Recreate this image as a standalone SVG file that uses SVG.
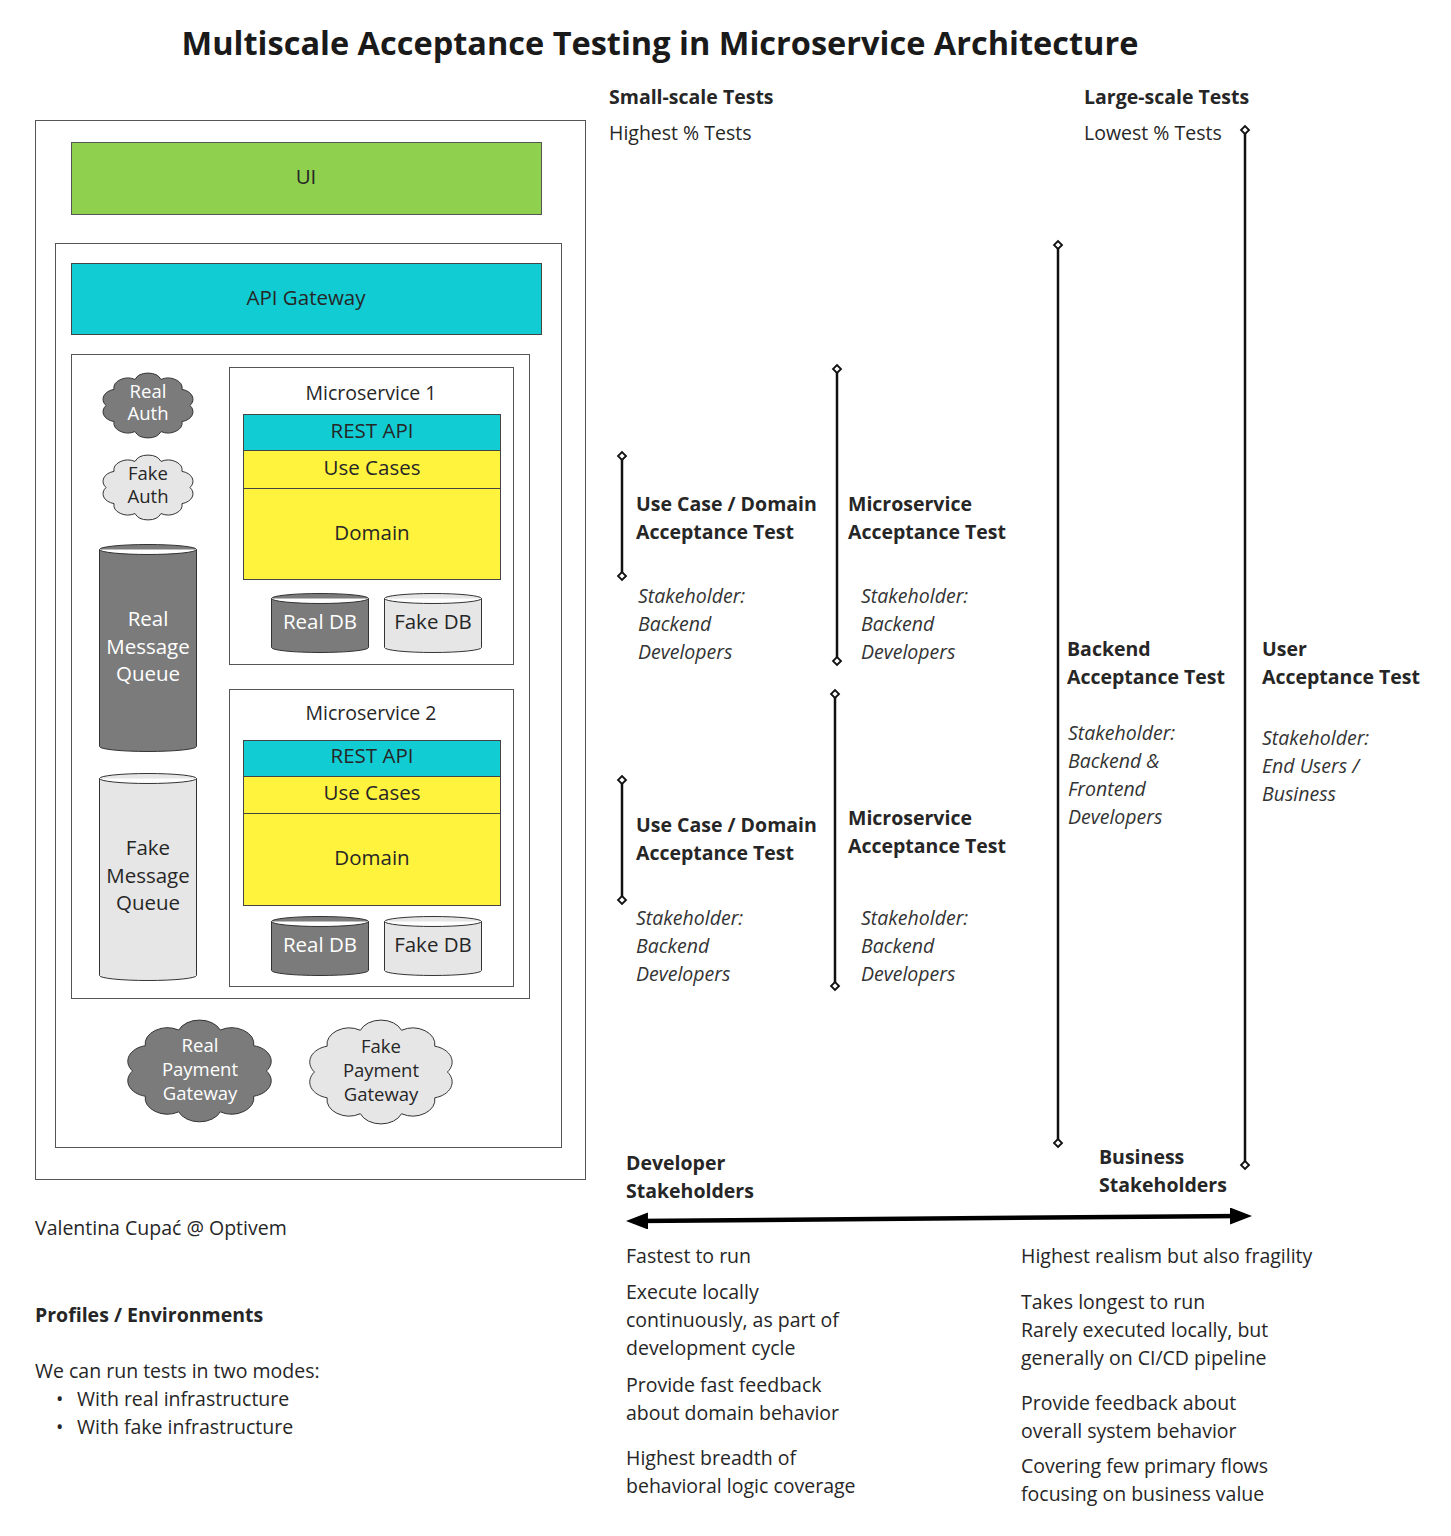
<svg xmlns="http://www.w3.org/2000/svg" width="1451" height="1536" viewBox="0 0 1451 1536">
<style>
text{font-family:"Open Sans","Noto Sans","Liberation Sans",sans-serif;fill:#262626;font-size:19.5px}
.t{font-size:32.5px;font-weight:bold;fill:#1a1a1a}
.b{font-weight:bold}
.i{font-style:italic;fill:#333}
.c{text-anchor:middle}
.w{fill:#ffffff}
.l{font-size:20.5px}
.s{font-size:18.5px}
.box{fill:#fff;stroke:#555;stroke-width:1}
.real{fill:#7b7b7b;stroke:#333;stroke-width:1}
.fake{fill:#e6e6e6;stroke:#333;stroke-width:1}
.cyan{fill:#12ccd4;stroke:#444;stroke-width:1}
.yel{fill:#fff33d;stroke:#444;stroke-width:1}
.vl{stroke:#111;stroke-width:2.5;fill:none;marker-start:url(#dia);marker-end:url(#dia)}
</style>
<defs>
<marker id="dia" viewBox="-6 -6 12 12" markerWidth="12" markerHeight="12" markerUnits="userSpaceOnUse" orient="auto" refX="0" refY="0">
<path d="M0,-4 L4,0 L0,4 L-4,0 Z" fill="#fff" stroke="#111" stroke-width="1.8"/>
</marker>
<marker id="ah" viewBox="0 0 10 10" preserveAspectRatio="none" markerWidth="22" markerHeight="17" markerUnits="userSpaceOnUse" orient="auto-start-reverse" refX="5" refY="5">
<path d="M0,0 L10,5 L0,10 Z" fill="#000"/>
</marker>
<path id="cloud" vector-effect="non-scaling-stroke" stroke="#333" stroke-width="1" d="M92,50 A14,14 0 0 1 84,72.3 A14,14 0 0 1 63,86.1 A14,14 0 0 1 37,86.1 A14,14 0 0 1 16,72.3 A14,14 0 0 1 8,50 A14,14 0 0 1 16,27.7 A14,14 0 0 1 37,13.9 A14,14 0 0 1 63,13.9 A14,14 0 0 1 84,27.7 A14,14 0 0 1 92,50 Z"/>
</defs>

<text class="t c" x="660" y="55">Multiscale Acceptance Testing in Microservice Architecture</text>

<g id="outer-box"><rect class="box" x="35.5" y="120.5" width="550" height="1059"/></g>
<g id="ui"><rect x="71.5" y="142.5" width="470" height="72" fill="#8fd14f" stroke="#555"/><text class="c l" x="306" y="184">UI</text></g>
<g id="backend-box"><rect class="box" x="55.5" y="243.5" width="506" height="904"/></g>
<g id="api-gateway"><rect class="cyan" x="71.5" y="263.5" width="470" height="71"/><text class="c l" x="306" y="305">API Gateway</text></g>
<g id="services-box"><rect class="box" x="71.5" y="354.5" width="458" height="644"/></g>

<g id="real-auth"><use href="#cloud" fill="#7b7b7b" transform="translate(98,369.4) scale(1,0.722)"/><text class="c w s" x="148" y="398">Real</text><text class="c w s" x="148" y="420">Auth</text></g>
<g id="fake-auth"><use href="#cloud" fill="#e6e6e6" transform="translate(98,451.4) scale(1,0.722)"/><text class="c s" x="148" y="480">Fake</text><text class="c s" x="148" y="503">Auth</text></g>

<g id="real-mq"><path class="real" d="M99.5,549.5 a48.5,5 0 0 1 97,0 v197 a48.5,5 0 0 1 -97,0 z M99.5,549.5 a48.5,5 0 0 0 97,0"/><text class="c w l" x="148" y="626">Real</text><text class="c w l" x="148" y="654">Message</text><text class="c w l" x="148" y="681">Queue</text></g>
<g id="fake-mq"><path class="fake" d="M99.5,778.5 a48.5,5 0 0 1 97,0 v197 a48.5,5 0 0 1 -97,0 z M99.5,778.5 a48.5,5 0 0 0 97,0"/><text class="c l" x="148" y="855">Fake</text><text class="c l" x="148" y="883">Message</text><text class="c l" x="148" y="910">Queue</text></g>

<g id="microservice-1">
<rect class="box" x="229.5" y="367.5" width="284" height="297"/>
<text class="c" x="371" y="400">Microservice 1</text>
<rect class="cyan" x="243.5" y="414.5" width="257" height="36"/><text class="c l" x="372" y="438">REST API</text>
<rect class="yel" x="243.5" y="450.5" width="257" height="38"/><text class="c l" x="372" y="475">Use Cases</text>
<rect class="yel" x="243.5" y="488.5" width="257" height="91"/><text class="c l" x="372" y="540">Domain</text>
<path class="real" d="M271.5,598.5 a48.5,5 0 0 1 97,0 v49 a48.5,5 0 0 1 -97,0 z M271.5,598.5 a48.5,5 0 0 0 97,0"/><text class="c w l" x="320" y="629">Real DB</text>
<path class="fake" d="M384.5,598.5 a48.5,5 0 0 1 97,0 v49 a48.5,5 0 0 1 -97,0 z M384.5,598.5 a48.5,5 0 0 0 97,0"/><text class="c l" x="433" y="629">Fake DB</text>
</g>
<g id="microservice-2">
<rect class="box" x="229.5" y="689.5" width="284" height="297"/>
<text class="c" x="371" y="720">Microservice 2</text>
<rect class="cyan" x="243.5" y="740.5" width="257" height="36"/><text class="c l" x="372" y="763">REST API</text>
<rect class="yel" x="243.5" y="776.5" width="257" height="37"/><text class="c l" x="372" y="800">Use Cases</text>
<rect class="yel" x="243.5" y="813.5" width="257" height="92"/><text class="c l" x="372" y="865">Domain</text>
<path class="real" d="M271.5,921.5 a48.5,5 0 0 1 97,0 v49 a48.5,5 0 0 1 -97,0 z M271.5,921.5 a48.5,5 0 0 0 97,0"/><text class="c w l" x="320" y="952">Real DB</text>
<path class="fake" d="M384.5,921.5 a48.5,5 0 0 1 97,0 v49 a48.5,5 0 0 1 -97,0 z M384.5,921.5 a48.5,5 0 0 0 97,0"/><text class="c l" x="433" y="952">Fake DB</text>
</g>

<g id="real-payment"><use href="#cloud" fill="#7b7b7b" transform="translate(119.8,1014.3) scale(1.594,1.133)"/><text class="c w s" x="200" y="1052">Real</text><text class="c w s" x="200" y="1076">Payment</text><text class="c w s" x="200" y="1100">Gateway</text></g>
<g id="fake-payment"><use href="#cloud" fill="#e6e6e6" transform="translate(301.8,1014.2) scale(1.583,1.156)"/><text class="c s" x="381" y="1053">Fake</text><text class="c s" x="381" y="1077">Payment</text><text class="c s" x="381" y="1101">Gateway</text></g>

<g id="scale-headers">
<text class="b" x="609" y="104">Small-scale Tests</text>
<text x="609" y="140">Highest % Tests</text>
<text class="b" x="1084" y="104">Large-scale Tests</text>
<text x="1084" y="140">Lowest % Tests</text>
</g>

<g id="connectors">
<line class="vl" x1="622" y1="456" x2="622" y2="576"/>
<line class="vl" x1="837" y1="369" x2="837" y2="661"/>
<line class="vl" x1="835" y1="694" x2="835" y2="986"/>
<line class="vl" x1="622" y1="780" x2="622" y2="900"/>
<line class="vl" x1="1058" y1="245" x2="1058" y2="1143"/>
<line class="vl" x1="1245" y1="130" x2="1245" y2="1165"/>
<line x1="637" y1="1221" x2="1241" y2="1216" stroke="#000" stroke-width="4.5" marker-start="url(#ah)" marker-end="url(#ah)"/>
</g>

<g id="usecase-test-1">
<text class="b" x="636" y="511">Use Case / Domain</text><text class="b" x="636" y="539">Acceptance Test</text>
<text class="i" x="638" y="603">Stakeholder:</text><text class="i" x="638" y="631">Backend</text><text class="i" x="638" y="659">Developers</text>
</g>
<g id="microservice-test-1">
<text class="b" x="848" y="511">Microservice</text><text class="b" x="848" y="539">Acceptance Test</text>
<text class="i" x="861" y="603">Stakeholder:</text><text class="i" x="861" y="631">Backend</text><text class="i" x="861" y="659">Developers</text>
</g>
<g id="usecase-test-2">
<text class="b" x="636" y="832">Use Case / Domain</text><text class="b" x="636" y="860">Acceptance Test</text>
<text class="i" x="636" y="925">Stakeholder:</text><text class="i" x="636" y="953">Backend</text><text class="i" x="636" y="981">Developers</text>
</g>
<g id="microservice-test-2">
<text class="b" x="848" y="825">Microservice</text><text class="b" x="848" y="853">Acceptance Test</text>
<text class="i" x="861" y="925">Stakeholder:</text><text class="i" x="861" y="953">Backend</text><text class="i" x="861" y="981">Developers</text>
</g>
<g id="backend-test">
<text class="b" x="1067" y="656">Backend</text><text class="b" x="1067" y="684">Acceptance Test</text>
<text class="i" x="1068" y="740">Stakeholder:</text><text class="i" x="1068" y="768">Backend &amp;</text><text class="i" x="1068" y="796">Frontend</text><text class="i" x="1068" y="824">Developers</text>
</g>
<g id="user-test">
<text class="b" x="1262" y="656">User</text><text class="b" x="1262" y="684">Acceptance Test</text>
<text class="i" x="1262" y="745">Stakeholder:</text><text class="i" x="1262" y="773">End Users /</text><text class="i" x="1262" y="801">Business</text>
</g>

<g id="stakeholder-axis">
<text class="b" x="626" y="1170">Developer</text><text class="b" x="626" y="1198">Stakeholders</text>
<text class="b" x="1099" y="1164">Business</text><text class="b" x="1099" y="1192">Stakeholders</text>
</g>

<g id="developer-notes">
<text x="626" y="1263">Fastest to run</text>
<text x="626" y="1299">Execute locally</text>
<text x="626" y="1327">continuously, as part of</text>
<text x="626" y="1355">development cycle</text>
<text x="626" y="1392">Provide fast feedback</text>
<text x="626" y="1420">about domain behavior</text>
<text x="626" y="1465">Highest breadth of</text>
<text x="626" y="1493">behavioral logic coverage</text>
</g>
<g id="business-notes">
<text x="1021" y="1263">Highest realism but also fragility</text>
<text x="1021" y="1309">Takes longest to run</text>
<text x="1021" y="1337">Rarely executed locally, but</text>
<text x="1021" y="1365">generally on CI/CD pipeline</text>
<text x="1021" y="1410">Provide feedback about</text>
<text x="1021" y="1438">overall system behavior</text>
<text x="1021" y="1473">Covering few primary flows</text>
<text x="1021" y="1501">focusing on business value</text>
</g>

<g id="footer">
<text x="35" y="1235">Valentina Cupać @ Optivem</text>
<text class="b" x="35" y="1322">Profiles / Environments</text>
<text x="35" y="1378">We can run tests in two modes:</text>
<text x="56" y="1406">•</text><text x="77" y="1406">With real infrastructure</text>
<text x="56" y="1434">•</text><text x="77" y="1434">With fake infrastructure</text>
</g>
</svg>
